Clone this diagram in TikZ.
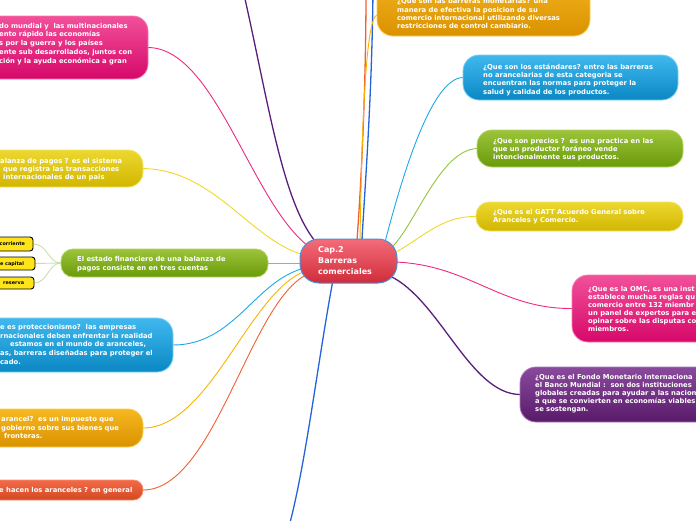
\documentclass[tikz,border=0pt]{standalone}
\usepackage{fontspec}
\setmainfont{DejaVu Sans}
\usetikzlibrary{backgrounds,calc}
\definecolor{pinkT}{HTML}{F2509A}\definecolor{pinkB}{HTML}{D6086A}\definecolor{pinkE}{HTML}{F878B0}
\definecolor{yelT}{HTML}{ECD830}\definecolor{yelB}{HTML}{D2B600}\definecolor{yelE}{HTML}{F2E468}
\definecolor{grnT}{HTML}{9CC43A}\definecolor{grnB}{HTML}{6A9A0A}\definecolor{grnE}{HTML}{B4D468}
\definecolor{bluT}{HTML}{40B8EE}\definecolor{bluB}{HTML}{0A88C4}\definecolor{bluE}{HTML}{78D0F6}
\definecolor{golT}{HTML}{F6B820}\definecolor{golB}{HTML}{DA9200}\definecolor{golE}{HTML}{FBD050}
\definecolor{redT}{HTML}{F26A48}\definecolor{redB}{HTML}{D24820}\definecolor{redE}{HTML}{F89070}
\definecolor{purT}{HTML}{8A4A9C}\definecolor{purB}{HTML}{5A1A6A}\definecolor{purE}{HTML}{A878B8}
\definecolor{cenT}{HTML}{F46C7A}\definecolor{cenB}{HTML}{D02C3A}\definecolor{cenE}{HTML}{4A90D0}
\definecolor{lPink}{HTML}{F0287F}\definecolor{lPur}{HTML}{5A1E78}\definecolor{lGold}{HTML}{F8B400}
\definecolor{lOra}{HTML}{F06030}\definecolor{lBlue}{HTML}{1CA8E8}\definecolor{lRoyal}{HTML}{2464D8}
\definecolor{lYel}{HTML}{F0D828}\definecolor{lGrn}{HTML}{94C43A}\definecolor{lLgrn}{HTML}{C8E0A8}
\definecolor{smallY}{HTML}{FFE41A}
\tikzset{
  pill/.style={outer sep=0pt, inner sep=0pt, line width=0.8pt},
  pinkbox/.style={pill, top color=pinkT, bottom color=pinkB, draw=pinkE},
  yelbox/.style={pill, top color=yelT, bottom color=yelB, draw=yelE},
  grnbox/.style={pill, top color=grnT, bottom color=grnB, draw=grnE},
  blubox/.style={pill, top color=bluT, bottom color=bluB, draw=bluE},
  golbox/.style={pill, top color=golT, bottom color=golB, draw=golE},
  redbox/.style={pill, top color=redT, bottom color=redB, draw=redE},
  purbox/.style={pill, top color=purT, bottom color=purB, draw=purE},
  cenbox/.style={pill, top color=cenT, bottom color=cenB, draw=cenE, line width=1pt},
  smallbox/.style={outer sep=0pt, inner sep=0pt, fill=smallY, draw=black, line width=0.9pt, rounded corners=3pt},
  txt/.style={inner sep=0pt, anchor=base west, text=white, font=\fontsize{6.8}{8}\selectfont\bfseries},
  ctxt/.style={inner sep=0pt, anchor=base west, text=white, font=\fontsize{8}{10}\selectfont\bfseries},
  stxt/.style={inner sep=0pt, anchor=base west, text=black, font=\fontsize{4.9}{6}\selectfont\bfseries},
  conn/.style={line width=0.9pt},
  longconn/.style={line width=1.3pt}
}
\begin{document}
\begin{tikzpicture}[x=1pt,y=-1pt]
\useasboundingbox (0,0) rectangle (696,520);
\begin{scope}
\clip (0,0) rectangle (696,520);
% boxes
\node[pinkbox, rounded corners=15pt, minimum width=208, minimum height=63] (pk) at (44,47.5) {};
\node[yelbox, rounded corners=15pt, minimum width=203, minimum height=37] (bal) at (41.5,168.5) {};
\node[grnbox, rounded corners=12pt, minimum width=207, minimum height=28] (gr) at (164.5,263) {};
\node[smallbox, minimum width=63, minimum height=14] (s1) at (1.5,244) {};
\node[smallbox, minimum width=65, minimum height=13] (s2) at (2.5,263.5) {};
\node[smallbox, minimum width=64, minimum height=12] (s3) at (2,283) {};
\node[blubox, rounded corners=16pt, minimum width=233, minimum height=54] (pro) at (56.5,345) {};
\node[golbox, rounded corners=15pt, minimum width=203, minimum height=38] (ara) at (41.5,428) {};
\node[redbox, rounded corners=9.5pt, minimum width=203, minimum height=20] (hac) at (41.5,490) {};
\node[golbox, rounded corners=16pt, minimum width=213, minimum height=66] (mon) at (483.5,3) {};
\node[blubox, rounded corners=16pt, minimum width=215, minimum height=45] (est) at (570.5,77.5) {};
\node[grnbox, rounded corners=15pt, minimum width=206, minimum height=37] (pre) at (580,148.5) {};
\node[yelbox, rounded corners=13pt, minimum width=207, minimum height=29] (gatt) at (579.5,216.5) {};
\node[pinkbox, rounded corners=16pt, minimum width=188, minimum height=67] (omc) at (666,308.5) {};
\node[purbox, rounded corners=16pt, minimum width=240, minimum height=55] (fmi) at (640,394.5) {};
\node[cenbox, rounded corners=19pt, minimum width=97, minimum height=44] (c) at (348.5,261) {};
% texts
\node[txt] (pk1) at (-1,28) {do mundial y\ \ las multinacionales};
\node[txt] (pk2) at (-1,36.7) {ento rápido las economías};
\node[txt] (pk3) at (-1,45.3) {s por la guerra y los países};
\node[txt] (pk4) at (-1,54.3) {ente sub desarrollados, juntos con};
\node[txt] (pk5) at (-1,63) {ción y la ayuda económica a gran};
\node[txt] (bal1) at (0,163) {alanza de pagos ? es el sistema};
\node[txt] (bal2) at (3,171) {que registra las transacciones};
\node[txt] (bal3) at (3,179) {internacionales de un pais};
\node[stxt] (st1) at (-0.5,245.8) {corriente};
\node[stxt] (st2) at (0,265.2) {e capital};
\node[stxt] (st3) at (3,284.8) {reserva};
\node[txt] (gr1) at (77,261) {El estado financiero de una balanza de};
\node[txt] (gr2) at (77,270) {pagos consiste en en tres cuentas};
\node[txt] (pro1) at (0,329.7) {e es proteccionismo?\ \ las empresas};
\node[txt] (pro2) at (0,338) {rnacionales deben enfrentar la realidad};
\node[txt] (pro3) at (10,346.3) {estamos en el mundo de aranceles,};
\node[txt] (pro4) at (0,355.3) {as, barreras diseñadas para proteger el};
\node[txt] (pro5) at (0,364) {cado.};
\node[txt] (ara1) at (1,421) {arancel?\ \ es un impuesto que};
\node[txt] (ara2) at (1,430) {gobierno sobre sus bienes que};
\node[txt] (ara3) at (4,438) {fronteras.};
\node[txt] (hac1) at (-1,492) {e hacen los aranceles ? en general};
\node[ctxt] (c1) at (318,252.5) {Cap.2};
\node[ctxt] (c2) at (318,263.5) {Barreras};
\node[ctxt] (c3) at (318,274.5) {comerciales};
\node[txt] (mon1) at (397,3) {¿Que son las barreras monetarias? una};
\node[txt] (mon2) at (397,12) {manera de efectiva la posicion de su};
\node[txt] (mon3) at (397,20) {comercio internacional utilizando diversas};
\node[txt] (mon4) at (397,28) {restricciones de control cambiario.};
\node[txt] (est1) at (483,69) {¿Que son los estándares? entre las barreras};
\node[txt] (est2) at (483,77.3) {no arancelarias de esta categoria se};
\node[txt] (est3) at (483,85.6) {encuentran las normas para proteger la};
\node[txt] (est4) at (483,94) {salud y calidad de los productos.};
\node[txt] (pre1) at (493,143) {¿Que son precios ?\ \ es una practica en las};
\node[txt] (pre2) at (493,151.3) {que un productor foráneo vende};
\node[txt] (pre3) at (493,159.7) {intencionalmente sus productos.};
\node[txt] (gatt1) at (493,214) {¿Que es el GATT Acuerdo General sobre};
\node[txt] (gatt2) at (493,222.3) {Aranceles y Comercio.};
\node[txt] (omc1) at (588,291) {¿Que es la OMC, es una inst};
\node[txt] (omc2) at (588,299.1) {establece muchas reglas qu};
\node[txt] (omc3) at (588,307.2) {comercio entre 132 miembr};
\node[txt] (omc4) at (588,315.3) {un panel de expertos para e};
\node[txt] (omc5) at (588,323.4) {opinar sobre las disputas co};
\node[txt] (omc6) at (588,331.5) {miembros.};
\node[txt] (fmi1) at (535,379) {¿Que es el Fondo Monetario Internaciona};
\node[txt] (fmi2) at (535,387) {el Banco Mundial :\ \ son dos instituciones};
\node[txt] (fmi3) at (535,395) {globales creadas para ayudar a las nacion};
\node[txt] (fmi4) at (535,403) {a que se convierten en economías viables};
\node[txt] (fmi5) at (535,411) {se sostengan.};
\coordinate (ptop) at (243,-10);
\coordinate (otop) at (366,-10);
\coordinate (btop) at (373,-10);
\coordinate (bbot) at (288,530);
\end{scope}
\begin{pgfonlayer}{background}
\begin{scope}
\clip (0,0) rectangle (696,520);
\draw[conn, lPink] (pk.east) .. controls (215,48) and (250,200) .. ($(c.center)+(-40.5,-15)$);
\draw[longconn, lPur] (ptop) .. controls (268,100) and (282,200) .. ($(c.center)+(-33.5,-20)$);
\draw[longconn, lOra] (otop) .. controls (366,100) and (360,200) .. ($(c.center)+(8.5,-21)$);
\draw[longconn, lRoyal] (btop) .. controls (372,100) and (364,200) .. ($(c.center)+(13.5,-21)$);
\draw[conn, lGold] ($(mon.west)+(0,12)$) .. controls (366,18) and (362,120) .. ($(c.center)+(11.5,-21)$);
\draw[conn, lYel] (bal.east) .. controls (215,170) and (250,240) .. ($(c.center)+(-44.5,-6)$);
\draw[conn, lGrn] (gr.east) -- ($(c.center)+(-38.5,2)$);
\draw[conn, lBlue] (pro.east) .. controls (235,345) and (255,280) .. ($(c.center)+(-43.5,7)$);
\draw[conn, lGold] (ara.east) .. controls (210,428) and (250,290) .. ($(c.center)+(-42.5,10)$);
\draw[conn, lOra] (hac.east) .. controls (215,490) and (250,300) .. ($(c.center)+(-40.5,13)$);
\draw[longconn, lRoyal] ($(c.center)+(-15.5,19)$) .. controls (318,360) and (305,470) .. (bbot);
\draw[conn, lBlue] (est.west) .. controls (430,78) and (400,185) .. ($(c.center)+(36.5,-19)$);
\draw[conn, lGrn] (pre.west) .. controls (440,150) and (415,225) .. ($(c.center)+(43.5,-14)$);
\draw[conn, lYel] (gatt.west) .. controls (440,216) and (420,240) .. ($(c.center)+(45.5,-8)$);
\draw[conn, lPink] (omc.west) .. controls (500,309) and (470,265) .. ($(c.center)+(46.5,1)$);
\draw[longconn, lPur] (fmi.west) .. controls (470,394) and (440,300) .. ($(c.center)+(41.5,15)$);
\draw[conn, lLgrn] (s1.east) .. controls (48,244) and (48,263) .. (gr.west);
\draw[conn, lLgrn] (s2.east) -- (gr.west);
\draw[conn, lLgrn] (s3.east) .. controls (48,283) and (48,263) .. (gr.west);
\end{scope}
\end{pgfonlayer}
\end{tikzpicture}
\end{document}
